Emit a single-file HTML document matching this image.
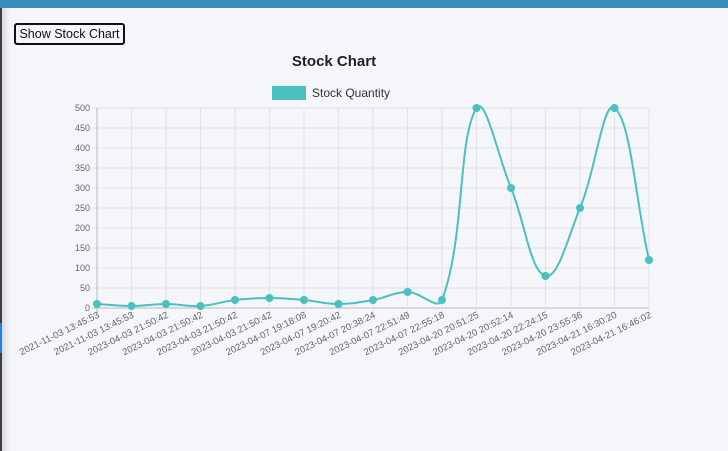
<!DOCTYPE html>
<html><head><meta charset="utf-8"><style>
html,body{margin:0;padding:0;width:728px;height:451px;overflow:hidden;background:#f5f6fa;font-family:"Liberation Sans",Arial,sans-serif;}
#topbar{position:absolute;left:0;top:0;width:728px;height:8px;background:#3b8cbf;}
#leftbar{position:absolute;left:0;top:8px;width:2px;height:443px;background:#3a3d42;}
#leftshade{position:absolute;left:2px;top:8px;width:8px;height:443px;background:linear-gradient(90deg,#d8dadf,#f5f6fa);}
#leftblue{position:absolute;left:0;top:323px;width:2px;height:30px;background:#1e7fe8;}
#btn{position:absolute;left:14px;top:23px;width:111px;height:22px;padding:0;text-align:center;border:2px solid #111;border-radius:3px;background:#f5f6fa;font-size:12.5px;line-height:18px;color:#111;box-sizing:border-box;white-space:nowrap;}
svg{position:absolute;left:0;top:0;}
</style></head><body>
<div id="topbar"></div>
<div id="leftbar"></div>
<div id="leftshade"></div>
<div id="leftblue"></div>
<div id="btn">Show Stock Chart</div>
<svg id="chart" width="728" height="451">
<text x="334" y="66" text-anchor="middle" font-size="15" font-weight="bold" fill="#222">Stock Chart</text>
<g>
<rect x="272" y="86" width="34" height="14" fill="#4bc0c0"></rect>
<text x="312" y="97" font-size="12" fill="#333">Stock Quantity</text>
</g>
</svg>
<script>
const categories=["2021-11-03 13:45:53","2021-11-03 13:45:53","2023-04-03 21:50:42","2023-04-03 21:50:42","2023-04-03 21:50:42","2023-04-03 21:50:42","2023-04-07 19:18:08","2023-04-07 19:20:42","2023-04-07 20:38:24","2023-04-07 22:51:49","2023-04-07 22:55:18","2023-04-20 20:51:25","2023-04-20 20:52:14","2023-04-20 22:24:15","2023-04-20 23:55:36","2023-04-21 16:30:20","2023-04-21 16:46:02"];
const stockValues=[10,5,10,5,20,25,20,10,20,40,20,500,300,80,250,500,120];
const yTicks=[0,50,100,150,200,250,300,350,400,450,500];
const svg=document.getElementById('chart');
const NS='http://www.w3.org/2000/svg';
const L=97,R=649,T=108,B=308,yMax=500;
const xs=i=>L+(R-L)*i/(categories.length-1);
const ys=v=>B-(B-T)*v/yMax;
function mk(t,a){const e=document.createElementNS(NS,t);for(const k in a)e.setAttribute(k,a[k]);svg.appendChild(e);return e;}
yTicks.forEach(v=>{
 const g=mk('line',{x1:L-5,x2:R,y1:ys(v),y2:ys(v),stroke:v===0?'#bbb':'#e2e3e6','stroke-width':1});
 
 
 const t=mk('text',{x:L-7,y:ys(v)+3,'text-anchor':'end','font-size':9,fill:'#666'});
 t.textContent=v;
 
 
});
categories.forEach((c,i)=>{
 const x=xs(i);
 const g=mk('line',{x1:x,x2:x,y1:T,y2:B+5,stroke:i===0?'#bbb':'#e2e3e6','stroke-width':1});
 
 
 const t=mk('text',{x:0,y:0,'text-anchor':'end','font-size':9.5,fill:'#666',transform:`translate(${x+3},${B+9}) rotate(-26)`});
 t.textContent=c;
 
 
});
const pts=stockValues.map((v,i)=>({x:xs(i),y:ys(v)}));
const tension=0.4;
let d=`M${pts[0].x},${pts[0].y}`;
const cps=pts.map((p,i)=>{
 const prev=pts[Math.max(0,i-1)],next=pts[Math.min(pts.length-1,i+1)];
 const d01=Math.hypot(p.x-prev.x,p.y-prev.y),d12=Math.hypot(next.x-p.x,next.y-p.y);
 let fa=d01/(d01+d12)||0,fb=d12/(d01+d12)||0;fa*=tension;fb*=tension;
 return {px:p.x-fa*(next.x-prev.x),py:p.y-fa*(next.y-prev.y),nx:p.x+fb*(next.x-prev.x),ny:p.y+fb*(next.y-prev.y)};
});
for(let i=1;i<pts.length;i++){d+=` C${cps[i-1].nx},${cps[i-1].ny} ${cps[i].px},${cps[i].py} ${pts[i].x},${pts[i].y}`;}
const line=mk('path',{d:d,fill:'none',stroke:'#4bc0c0','stroke-width':2});


pts.forEach(p=>{
 const c=mk('circle',{cx:p.x,cy:p.y,r:4,fill:'#4bc0c0'});
 
 
});
</script>
</body></html>
